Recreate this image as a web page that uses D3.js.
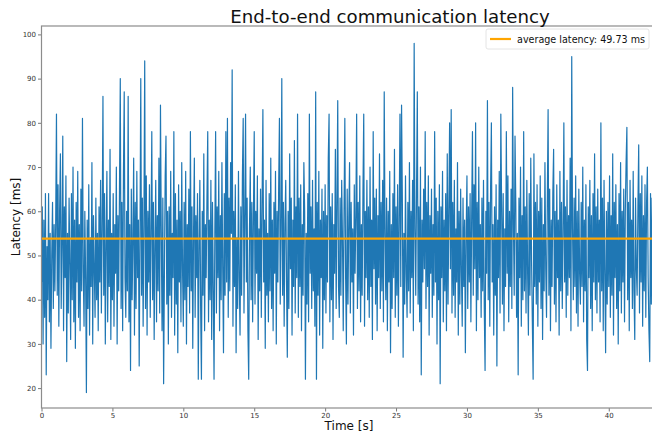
<!DOCTYPE html>
<html><head><meta charset="utf-8">
<script src="https://cdn.jsdelivr.net/npm/d3@7"></script>
<style>
html,body{margin:0;padding:0;background:#fff;overflow:hidden}
text{font-family:"DejaVu Sans",sans-serif}
</style></head>
<body><svg id="c" width="652" height="431"></svg>
<script>
const title = "End-to-end communication latency";
const xLabel = "Time [s]";
const yLabel = "Latency [ms]";
const legendLabel = "average latency: 49.73 ms";
const averageLine = 53.8;
const sampleInterval = 1 / 18; // seconds between samples
const xTicks = [0,5,10,15,20,25,30,35,40];
const yTicks = [20,30,40,50,60,70,80,90,100];
const latency = [
44,61,30,58,36,64,23,52,40,64,35,55,29,50,62,38,57,42,
57,82,41,66,34,60,73,38,52,77,33,61,45,68,26,55,37,63,
48,31,64,40,70,35,58,29,62,44,69,36,57,33,65,42,81,47,
34,60,45,19,58,38,66,32,54,43,71,30,59,47,36,63,40,55,
33,61,44,67,37,56,86,41,64,30,52,69,35,58,43,74,31,55,
40,64,34,57,46,70,30,59,42,65,90,38,62,33,68,87,45,36,
60,42,86,35,57,24,65,40,53,72,32,62,38,69,45,58,25,54,
90,41,63,34,57,94,38,68,32,60,44,66,36,55,78,40,62,31,
52,67,35,59,42,72,37,84,56,33,63,21,46,68,77,39,60,30,
61,41,69,36,55,45,78,32,64,39,58,28,66,44,60,35,71,47,
34,62,40,69,30,57,43,65,37,78,42,61,29,55,72,36,59,45,
64,22,52,67,38,22,60,41,73,33,57,45,63,78,35,58,40,67,
31,62,43,22,55,78,37,61,45,69,33,59,40,71,47,28,64,41,
78,44,81,36,63,42,71,55,92,34,60,43,66,28,54,38,69,45,
32,61,41,68,81,37,58,82,44,63,33,22,56,70,40,62,35,59,
78,39,60,46,68,31,56,42,65,36,62,83,44,58,29,67,41,55,
35,64,42,72,38,58,33,62,46,69,30,60,44,65,81,39,55,90,
41,62,34,57,67,44,27,60,38,73,47,63,32,58,43,76,37,61,
45,82,36,63,43,66,33,57,41,71,60,22,55,39,64,35,82,46,
61,38,67,42,56,34,87,22,62,41,69,32,58,45,65,29,60,40,
66,37,59,44,72,82,35,61,40,64,31,57,46,74,38,62,85,43,
36,63,41,67,54,33,60,81,45,30,65,39,58,71,37,62,44,56,
32,66,46,59,82,38,62,42,68,35,57,41,64,82,34,60,45,67,
40,61,36,70,43,58,31,78,47,63,39,65,33,59,45,73,38,62,
42,67,35,87,55,40,63,33,60,44,69,28,57,38,64,45,74,36,
61,41,66,34,58,82,43,84,63,27,55,39,68,46,36,62,42,71,
37,60,45,67,33,98,56,41,64,87,39,61,35,70,23,58,44,65,
47,78,38,62,43,68,32,59,46,65,36,57,41,78,44,63,30,60,
40,66,21,61,45,69,35,58,42,64,33,73,39,60,80,47,83,37,
62,41,67,36,56,44,71,32,60,39,65,46,34,63,43,58,28,55,
68,38,61,44,64,35,59,78,41,66,47,80,33,62,40,70,45,57,
36,63,42,67,38,24,60,46,85,40,62,34,65,80,44,57,32,61,
41,66,25,58,45,69,37,82,61,39,64,33,56,43,78,46,68,35,
60,43,65,38,88,57,41,77,62,36,55,23,63,45,70,34,59,40,
78,42,61,37,67,46,32,64,41,72,49,35,22,73,43,62,39,66,
34,60,44,68,38,63,31,57,42,71,47,36,62,83,41,65,33,58,
43,64,74,39,60,35,66,45,58,32,69,42,62,38,55,80,44,61,
36,67,41,59,45,72,33,95,56,40,63,43,68,37,60,34,65,46,
39,62,43,70,35,58,42,66,31,24,61,45,67,38,59,33,64,44,
73,40,61,37,65,44,58,35,80,42,63,33,67,46,28,60,39,62,
43,68,36,59,41,73,32,62,45,66,38,57,30,64,42,71,37,60,
44,65,35,60,71,79,40,62,33,67,45,58,38,69,42,31,63,47,
41,61,75,37,64,44,68,34,59,42,66,36,62,70,45,33,26,64,
39,63,28,55
];

const svg = d3.select("#c");
const L = 41.5, R = 655, T = 26, B = 408;
const x = d3.scaleLinear().domain([0, 43.26]).range([L, R]);
const y = d3.scaleLinear().domain([15.5, 101.9]).range([B, T]);

svg.append("defs").append("clipPath").attr("id","clip")
  .append("rect").attr("x",L).attr("y",T).attr("width",R-L).attr("height",B-T);

const line = d3.line().x((d,i)=>x(i*sampleInterval)).y(d=>y(d));
svg.append("path").datum(latency).attr("clip-path","url(#clip)")
  .attr("d",line).attr("fill","none").attr("stroke","#1f77b4")
  .attr("stroke-width",1.2).attr("stroke-linejoin","round");

svg.append("line").attr("x1",L).attr("x2",R).attr("y1",y(averageLine)).attr("y2",y(averageLine))
  .attr("stroke","#ffa500").attr("stroke-width",2.2);

// axes
const xAxis = svg.append("g").attr("transform",`translate(0,${B})`)
  .call(d3.axisBottom(x).tickValues(xTicks).tickSize(3.5).tickPadding(1.5).tickFormat(d3.format("d")));
const yAxis = svg.append("g").attr("transform",`translate(${L},0)`)
  .call(d3.axisLeft(y).tickValues(yTicks).tickSize(3.5).tickPadding(2).tickFormat(d3.format("d")));
[xAxis,yAxis].forEach(g=>{
  g.select(".domain").remove();
  g.selectAll(".tick line").attr("stroke","#555").attr("stroke-width",0.8);
  g.selectAll(".tick text").attr("fill","#333").style("font-size","7px").style("font-family","DejaVu Sans");
});
// spines
svg.append("rect").attr("x",L).attr("y",T).attr("width",R-L).attr("height",B-T)
  .attr("fill","none").attr("stroke","#8c8c8c").attr("stroke-width",1.2);

// title & labels
svg.append("text").attr("x",390).attr("y",23).attr("text-anchor","middle")
  .style("font-size","18.2px").attr("fill","#111").text(title);
svg.append("text").attr("x",349).attr("y",429.5).attr("text-anchor","middle")
  .style("font-size","12px").attr("fill","#111").text(xLabel);
svg.append("text").attr("transform","translate(20,217) rotate(-90)").attr("text-anchor","middle")
  .style("font-size","12px").attr("fill","#111").text(yLabel);

// legend
const lg = svg.append("g");
lg.append("rect").attr("x",486).attr("y",29).attr("width",163).attr("height",20).attr("rx",2)
  .attr("fill","#fff").attr("fill-opacity",0.85).attr("stroke","#ddd").attr("stroke-width",0.8);
lg.append("line").attr("x1",490).attr("x2",511).attr("y1",39).attr("y2",39)
  .attr("stroke","#ffa500").attr("stroke-width",2.2);
lg.append("text").attr("x",517).attr("y",43).style("font-size","9.6px").attr("fill","#111").text(legendLabel);
</script></body></html>
